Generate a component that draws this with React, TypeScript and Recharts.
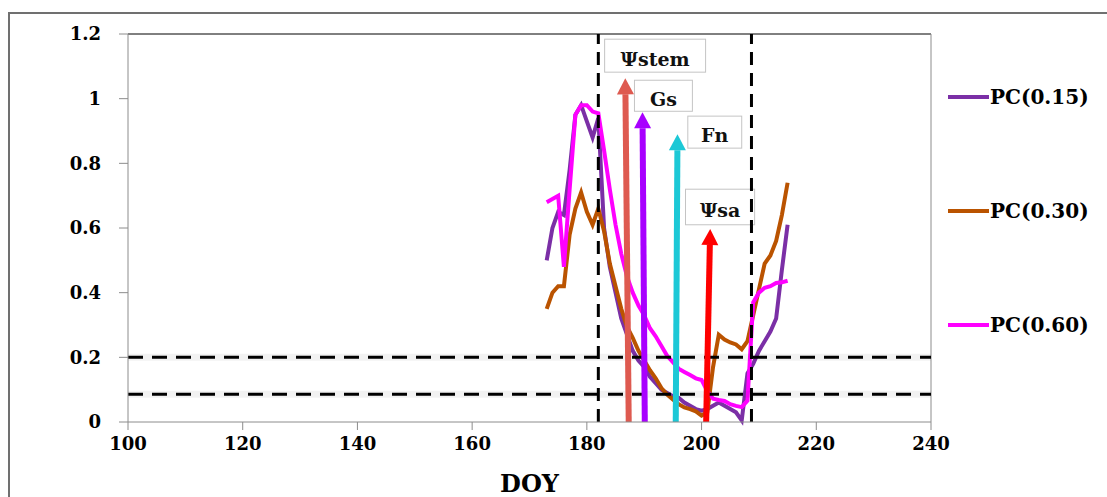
import { Legend, Line, LineChart, ReferenceArea, ReferenceLine, XAxis, YAxis } from "recharts";

// day of year for every sample
const doy = [
  173, 174, 175, 176, 177, 178, 179, 180, 181, 182,
  183, 184, 185, 186, 187, 188, 189, 190, 191, 192,
  193, 194, 195, 196, 197, 198, 199, 200, 201, 202,
  203, 204, 205, 206, 207, 208, 209, 210, 211, 212,
  213, 214, 215,
];
const pc015 = [
  0.5, 0.6, 0.65, 0.64, 0.78, 0.95, 0.98, 0.93, 0.88, 0.94,
  0.6, 0.48, 0.4, 0.32, 0.27, 0.22, 0.19, 0.17, 0.14, 0.12,
  0.1, 0.09, 0.08, 0.075, 0.06, 0.05, 0.04, 0.035, 0.04, 0.05,
  0.06, 0.05, 0.04, 0.03, 0.005, 0.15, 0.18, 0.22, 0.25, 0.28,
  0.32, 0.47, 0.61,
];
const pc030 = [
  0.35, 0.4, 0.42, 0.42, 0.58, 0.66, 0.71, 0.65, 0.61, 0.66,
  0.59, 0.49, 0.42, 0.35, 0.295, 0.26, 0.22, 0.19, 0.16, 0.135,
  0.105, 0.085, 0.07, 0.055, 0.045, 0.04, 0.033, 0.02, 0.03, 0.17,
  0.27, 0.255, 0.246, 0.24, 0.225, 0.25, 0.33, 0.41, 0.49, 0.515,
  0.56, 0.64, 0.74,
];
const pc060 = [
  0.68, 0.69, 0.7, 0.48, 0.72, 0.95, 0.98, 0.98, 0.96, 0.955,
  0.84, 0.72, 0.61, 0.52, 0.45, 0.4, 0.36, 0.33, 0.29, 0.265,
  0.235, 0.205, 0.185, 0.165, 0.155, 0.145, 0.135, 0.13, 0.095, 0.072,
  0.068, 0.065, 0.055, 0.05, 0.046, 0.066, 0.37, 0.4, 0.415, 0.42,
  0.43, 0.432, 0.437,
];
const seriesNames = ["PC(0.15)", "PC(0.30)", "PC(0.60)"];
const xTicks = [100, 120, 140, 160, 180, 200, 220, 240];
const yTicks = [0, 0.2, 0.4, 0.6, 0.8, 1, 1.2];
const thresholds = [0.2, 0.086];
const windowDoy = [182, 208.7];

const arrowNames = ["Ψstem", "Gs", "Fn", "Ψsa"];
const arrowBaseDoy = [187.3, 190.1, 195.5, 200.8];
const arrowTipDoy = [186.7, 189.7, 195.8, 201.5];
const arrowTipValue = [1.063, 0.958, 0.89, 0.597];

const lineColors = ["#7B2FA6", "#BA5300", "#FF00FF"];
const arrowColors = ["#DE5A50", "#A800FF", "#1CC8D6", "#FF0000"];

// label boxes, in axis units
const labelBoxes = [
  { x1: 183.1, x2: 200.7, y1: 1.082, y2: 1.184 },
  { x1: 188.3, x2: 198.4, y1: 0.961, y2: 1.057 },
  { x1: 197.6, x2: 207.0, y1: 0.847, y2: 0.946 },
  { x1: 197.2, x2: 209.25, y1: 0.61, y2: 0.72 },
];

const rows = doy.map((d, i) => ({ doy: d, a: pc015[i], b: pc030[i], c: pc060[i] }));

const font = "'DejaVu Serif', serif";
const tick = { fill: "#000", fontSize: 18, fontWeight: 700, fontFamily: font };
const axisGray = "#8c8c8c";

const arrowShape = (color: string) => (p: any) => {
  const { x1, y1, x2, y2 } = p;
  const dx = x2 - x1;
  const dy = y2 - y1;
  const len = Math.hypot(dx, dy) || 1;
  const ux = dx / len;
  const uy = dy / len;
  const head = 16;
  const half = 8.5;
  const bx = x2 - ux * head;
  const by = y2 - uy * head;
  const px = -uy;
  const py = ux;
  return (
    <g>
      <line x1={x1} y1={y1} x2={bx} y2={by} stroke={color} strokeWidth={6} />
      <polygon
        points={`${x2},${y2} ${bx + px * half},${by + py * half} ${bx - px * half},${by - py * half}`}
        fill={color}
      />
    </g>
  );
};

const boxShape = (name: string) => (p: any) => (
  <g>
    <rect x={p.x} y={p.y} width={p.width} height={p.height} fill="#fff" stroke="#c4c4c4" strokeWidth={1} />
    <text
      x={p.x + p.width / 2}
      y={p.y + p.height / 2 + 5}
      textAnchor="middle"
      dominantBaseline="middle"
      fontFamily={font}
      fontWeight={700}
      fontSize={19}
      fill="#111"
    >
      {name}
    </text>
  </g>
);

const renderLegend = (props: any) => {
  const items = props.payload || [];
  return (
    <div style={{ position: "relative", width: 160, height: 260 }}>
      {items.map((it: any, i: number) => (
        <div
          key={it.value}
          style={{ position: "absolute", left: 0, top: i * 114, height: 24, display: "flex", alignItems: "center" }}
        >
          <div style={{ width: 41, height: 4, background: it.color }} />
          <span style={{ fontFamily: font, fontWeight: 700, fontSize: 20, color: "#000", marginLeft: 1, lineHeight: "24px" }}>
            {it.value}
          </span>
        </div>
      ))}
    </div>
  );
};

export default function App() {
  return (
    <div style={{ position: "absolute", left: 0, top: 0, width: 1107, height: 497, overflow: "hidden", background: "#fff" }}>
      <div
        style={{
          position: "absolute",
          left: 8,
          top: 12,
          width: 1200,
          height: 600,
          borderLeft: "2px solid #707070",
          borderTop: "2px solid #707070",
        }}
      />
      <div style={{ position: "absolute", left: 0, top: 0 }}>
        <LineChart width={1107} height={497} data={rows} margin={{ top: 34, right: 176, left: 68, bottom: 0 }}>
          <XAxis
            dataKey="doy"
            type="number"
            domain={[100, 240]}
            ticks={xTicks}
            height={75}
            tick={tick}
            tickSize={8}
            tickMargin={7}
            stroke={axisGray}
            label={{ value: "DOY", position: "insideBottom", offset: 5, fill: "#000", fontSize: 24, fontWeight: 700, fontFamily: font }}
          />
          <YAxis
            type="number"
            domain={[0, 1.2]}
            ticks={yTicks}
            width={60}
            tick={tick}
            tickSize={9}
            tickMargin={18}
            stroke={axisGray}
          />
          <ReferenceLine y={1.2} stroke="#000" strokeWidth={1} />
          <ReferenceLine x={240} stroke={axisGray} strokeWidth={1} />
          <Line dataKey="a" name={seriesNames[0]} stroke={lineColors[0]} strokeWidth={4} dot={false} isAnimationActive={false} />
          <Line dataKey="b" name={seriesNames[1]} stroke={lineColors[1]} strokeWidth={4} dot={false} isAnimationActive={false} />
          <Line dataKey="c" name={seriesNames[2]} stroke={lineColors[2]} strokeWidth={4} dot={false} isAnimationActive={false} />
          {thresholds.map((v) => (
            <ReferenceLine key={"s" + v} y={v} stroke="#000" strokeOpacity={0.05} strokeWidth={7} />
          ))}
          {thresholds.map((v) => (
            <ReferenceLine key={"h" + v} y={v} stroke="#000" strokeWidth={3} strokeDasharray="15 9" />
          ))}
          {windowDoy.map((d) => (
            <ReferenceLine key={"v" + d} x={d} stroke="#000" strokeWidth={3} strokeDasharray="13 8" />
          ))}
          {arrowNames.map((n, i) => (
            <ReferenceLine
              key={"a" + n}
              segment={[
                { x: arrowBaseDoy[i], y: 0 },
                { x: arrowTipDoy[i], y: arrowTipValue[i] },
              ]}
              stroke={arrowColors[i]}
              shape={arrowShape(arrowColors[i])}
            />
          ))}
          {arrowNames.map((n, i) => (
            <ReferenceArea
              key={"b" + n}
              x1={labelBoxes[i].x1}
              x2={labelBoxes[i].x2}
              y1={labelBoxes[i].y1}
              y2={labelBoxes[i].y2}
              shape={boxShape(n)}
            />
          ))}
          <Legend
            layout="horizontal"
            verticalAlign="middle"
            align="center"
            wrapperStyle={{ left: 948, top: 85, width: 160, height: 260 }}
            content={renderLegend}
          />
        </LineChart>
      </div>
    </div>
  );
}
